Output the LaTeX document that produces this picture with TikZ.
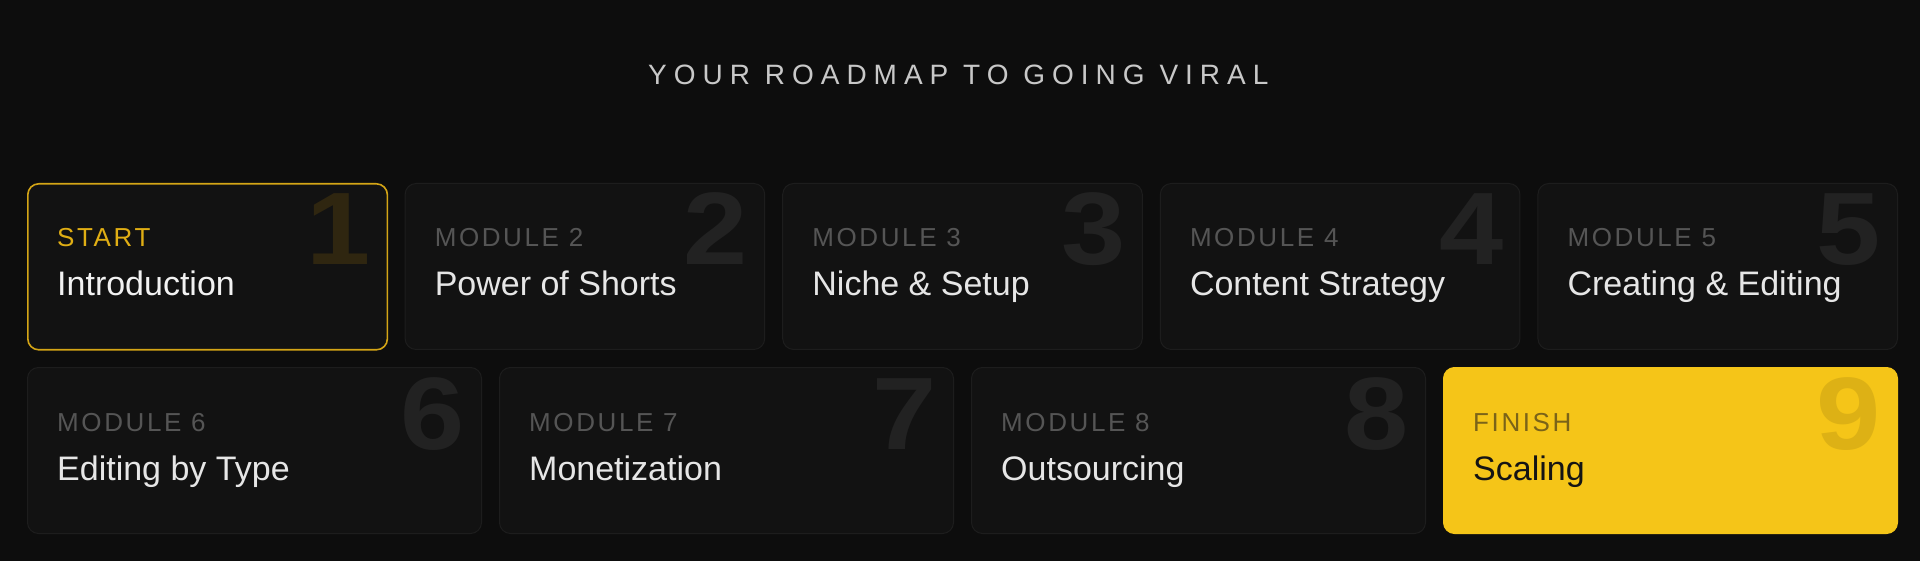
\documentclass[tikz,border=0pt]{standalone}
\usepackage{fontspec}
\setmainfont{Liberation Sans}
\newfontfamily\titlefont[LetterSpace=25]{Liberation Sans}
\newfontfamily\lblfont[LetterSpace=10]{Liberation Sans}
\newfontfamily\numfont[FakeStretch=1.12]{Liberation Sans}
\definecolor{bgc}{HTML}{0D0D0D}
\definecolor{cardfill}{HTML}{121212}
\definecolor{cardline}{HTML}{1D1D1D}
\definecolor{lblgrey}{HTML}{555555}
\definecolor{ttlgrey}{HTML}{E6E6E6}
\definecolor{numgrey}{HTML}{222222}
\definecolor{headc}{HTML}{C8C8C8}
\definecolor{gold}{HTML}{D4A516}
\definecolor{goldlbl}{HTML}{E0AE14}
\definecolor{goldnum}{HTML}{2F2610}
\definecolor{yel}{HTML}{F5C518}
\definecolor{yelnum}{HTML}{DDB115}
\definecolor{yellbl}{HTML}{7A6318}
\definecolor{ink}{HTML}{141414}
\begin{document}
\begin{tikzpicture}[x=1pt,y=-1pt,
  card/.style={draw=cardline, fill=cardfill, line width=1pt, rounded corners=11pt,
    inner sep=0pt, anchor=north west, minimum height=166pt},
  startcard/.style={card, draw=gold, line width=1.6pt},
  finishcard/.style={card, draw=yel, fill=yel},
  wtop/.style={minimum width=359.6pt},
  wbot/.style={minimum width=454pt},
  lbl/.style={text=lblgrey, font=\lblfont\fontsize{26}{30}\selectfont, inner sep=0pt, anchor=base west},
  ttl/.style={text=ttlgrey, font=\fontsize{34}{38}\selectfont, inner sep=0pt, anchor=base west},
  num/.style={text=numgrey, font=\numfont\bfseries\fontsize{103}{110}\selectfont, inner sep=0pt, anchor=base east},
  head/.style={text=headc, font=\titlefont\fontsize{28}{32}\selectfont, inner sep=0pt, anchor=base west}
]
\fill[bgc] (0,0) rectangle (1920,561);
\useasboundingbox (0,0) rectangle (1920,561);

\node[head] (title) at (648,85) {YOUR ROADMAP TO GOING VIRAL};

% top row
\node[startcard, wtop] (c1) at (27,183) {};
\node[card, wtop] (c2) at (404.6,183) {};
\node[card, wtop] (c3) at (782.2,183) {};
\node[card, wtop] (c4) at (1159.8,183) {};
\node[card, wtop] (c5) at (1537.4,183) {};
% bottom row
\node[card, wbot] (c6) at (27,367) {};
\node[card, wbot] (c7) at (499,367) {};
\node[card, wbot] (c8) at (971,367) {};
\node[finishcard, wbot] (c9) at (1443,367) {};

% numbers
\node[num, text=goldnum] (n1) at ([shift={(-17,82)}]c1.north east) {1};
\node[num] (n2) at ([shift={(-17,82)}]c2.north east) {2};
\node[num] (n3) at ([shift={(-17,82)}]c3.north east) {3};
\node[num] (n4) at ([shift={(-17,82)}]c4.north east) {4};
\node[num] (n5) at ([shift={(-17,82)}]c5.north east) {5};
\node[num] (n6) at ([shift={(-17,82)}]c6.north east) {6};
\node[num] (n7) at ([shift={(-17,82)}]c7.north east) {7};
\node[num] (n8) at ([shift={(-17,82)}]c8.north east) {8};
\node[num, text=yelnum] (n9) at ([shift={(-17,82)}]c9.north east) {9};

% labels
\node[lbl, text=goldlbl] (l1) at ([shift={(30,64)}]c1.north west) {START};
\node[lbl] (l2) at ([shift={(30,64)}]c2.north west) {MODULE 2};
\node[lbl] (l3) at ([shift={(30,64)}]c3.north west) {MODULE 3};
\node[lbl] (l4) at ([shift={(30,64)}]c4.north west) {MODULE 4};
\node[lbl] (l5) at ([shift={(30,64)}]c5.north west) {MODULE 5};
\node[lbl] (l6) at ([shift={(30,64)}]c6.north west) {MODULE 6};
\node[lbl] (l7) at ([shift={(30,64)}]c7.north west) {MODULE 7};
\node[lbl] (l8) at ([shift={(30,64)}]c8.north west) {MODULE 8};
\node[lbl, text=yellbl] (l9) at ([shift={(30,64)}]c9.north west) {FINISH};

% titles
\node[ttl, text=white!95!black] (t1) at ([shift={(30,113)}]c1.north west) {Introduction};
\node[ttl] (t2) at ([shift={(30,113)}]c2.north west) {Power of Shorts};
\node[ttl] (t3) at ([shift={(30,113)}]c3.north west) {Niche \& Setup};
\node[ttl] (t4) at ([shift={(30,113)}]c4.north west) {Content Strategy};
\node[ttl] (t5) at ([shift={(30,113)}]c5.north west) {Creating \& Editing};
\node[ttl] (t6) at ([shift={(30,113)}]c6.north west) {Editing by Type};
\node[ttl] (t7) at ([shift={(30,113)}]c7.north west) {Monetization};
\node[ttl] (t8) at ([shift={(30,113)}]c8.north west) {Outsourcing};
\node[ttl, text=ink] (t9) at ([shift={(30,113)}]c9.north west) {Scaling};
\end{tikzpicture}
\end{document}
